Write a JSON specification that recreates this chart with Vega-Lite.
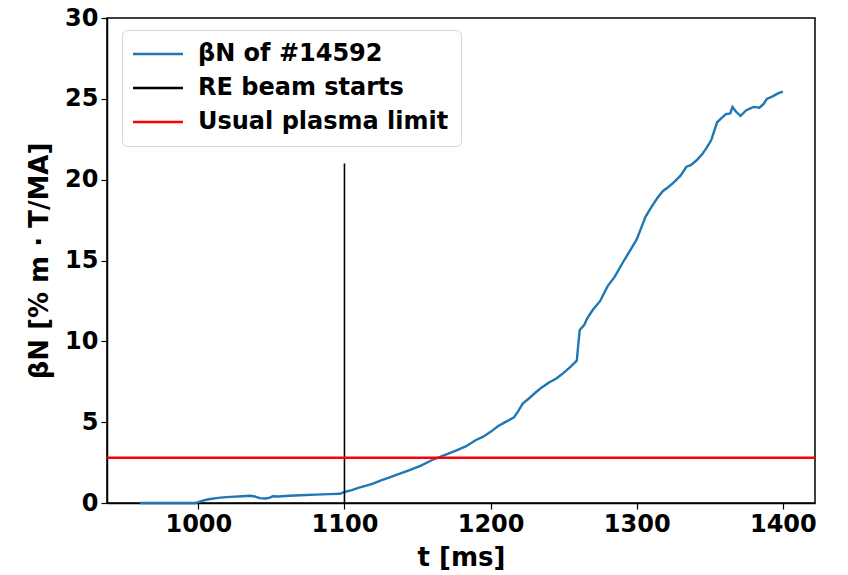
{
  "$schema": "https://vega.github.io/schema/vega-lite/v6.json",
  "width": 708,
  "height": 485,
  "autosize": {"type": "none"},
  "padding": {"left": 107, "top": 18, "right": 33, "bottom": 72},
  "background": "white",
  "datasets": {
    "beta": [
      {"t": 960, "v": 0.0}, {"t": 970, "v": 0.0}, {"t": 980, "v": 0.0}, {"t": 990, "v": 0.0}, {"t": 998, "v": 0.0},
      {"t": 1000, "v": 0.05}, {"t": 1003, "v": 0.15}, {"t": 1008, "v": 0.25}, {"t": 1015, "v": 0.33}, {"t": 1022, "v": 0.38},
      {"t": 1030, "v": 0.42}, {"t": 1035, "v": 0.45}, {"t": 1038, "v": 0.42}, {"t": 1042, "v": 0.3}, {"t": 1046, "v": 0.28},
      {"t": 1049, "v": 0.33}, {"t": 1051, "v": 0.42}, {"t": 1055, "v": 0.4}, {"t": 1062, "v": 0.45}, {"t": 1070, "v": 0.48},
      {"t": 1080, "v": 0.52}, {"t": 1090, "v": 0.55}, {"t": 1097, "v": 0.57}, {"t": 1100, "v": 0.68}, {"t": 1105, "v": 0.8},
      {"t": 1110, "v": 0.95}, {"t": 1115, "v": 1.08}, {"t": 1120, "v": 1.22}, {"t": 1125, "v": 1.4}, {"t": 1130, "v": 1.55},
      {"t": 1137, "v": 1.79}, {"t": 1145, "v": 2.05}, {"t": 1152, "v": 2.3}, {"t": 1160, "v": 2.66}, {"t": 1168, "v": 2.95},
      {"t": 1175, "v": 3.2}, {"t": 1183, "v": 3.5}, {"t": 1190, "v": 3.9}, {"t": 1195, "v": 4.1}, {"t": 1200, "v": 4.4},
      {"t": 1205, "v": 4.75}, {"t": 1210, "v": 5.0}, {"t": 1216, "v": 5.3}, {"t": 1219, "v": 5.7}, {"t": 1222, "v": 6.15},
      {"t": 1226, "v": 6.45}, {"t": 1231, "v": 6.85}, {"t": 1235, "v": 7.15}, {"t": 1240, "v": 7.45}, {"t": 1245, "v": 7.7},
      {"t": 1250, "v": 8.05}, {"t": 1255, "v": 8.45}, {"t": 1259, "v": 8.8}, {"t": 1260, "v": 9.8}, {"t": 1261, "v": 10.7},
      {"t": 1264, "v": 11.0}, {"t": 1266, "v": 11.4}, {"t": 1270, "v": 11.95}, {"t": 1275, "v": 12.5}, {"t": 1280, "v": 13.4},
      {"t": 1285, "v": 14.0}, {"t": 1290, "v": 14.8}, {"t": 1295, "v": 15.55}, {"t": 1300, "v": 16.3}, {"t": 1303, "v": 17.0},
      {"t": 1306, "v": 17.7}, {"t": 1310, "v": 18.3}, {"t": 1314, "v": 18.85}, {"t": 1318, "v": 19.3}, {"t": 1321, "v": 19.5},
      {"t": 1325, "v": 19.8}, {"t": 1330, "v": 20.25}, {"t": 1334, "v": 20.8}, {"t": 1337, "v": 20.9}, {"t": 1341, "v": 21.2},
      {"t": 1345, "v": 21.6}, {"t": 1348, "v": 22.0}, {"t": 1351, "v": 22.45}, {"t": 1353, "v": 23.0}, {"t": 1355, "v": 23.55},
      {"t": 1358, "v": 23.8}, {"t": 1361, "v": 24.05}, {"t": 1364, "v": 24.1}, {"t": 1365.5, "v": 24.5}, {"t": 1368, "v": 24.2},
      {"t": 1371, "v": 23.95}, {"t": 1375, "v": 24.3}, {"t": 1380, "v": 24.5}, {"t": 1384, "v": 24.45}, {"t": 1387, "v": 24.7},
      {"t": 1389, "v": 25.0}, {"t": 1393, "v": 25.15}, {"t": 1397, "v": 25.35}, {"t": 1400, "v": 25.45}
    ],
    "beam": [{"t": 1100, "y0": 0, "y1": 21}],
    "limit": [{"lim": 2.8}]
  },
  "config": {
    "font": "DejaVu Sans",
    "view": {"stroke": "black", "strokeWidth": 1.5},
    "axis": {
      "grid": false,
      "domainColor": "black",
      "domainWidth": 1.5,
      "tickColor": "black",
      "tickWidth": 1.2,
      "tickSize": 6,
      "labelFont": "DejaVu Sans",
      "labelFontWeight": "bold",
      "labelFontSize": 24,
      "labelColor": "black",
      "titleFont": "DejaVu Sans",
      "titleFontWeight": "bold",
      "titleFontSize": 26,
      "titleColor": "black"
    }
  },
  "layer": [
    {
      "data": {"name": "beta"},
      "mark": {"type": "line", "strokeWidth": 2.4},
      "encoding": {
        "x": {
          "field": "t", "type": "quantitative",
          "scale": {"domain": [937.5, 1422], "nice": false, "zero": false},
          "axis": {"values": [1000, 1100, 1200, 1300, 1400], "format": "d", "title": "t [ms]", "labelPadding": 3, "titlePadding": 8}
        },
        "y": {
          "field": "v", "type": "quantitative",
          "scale": {"domain": [0, 30], "nice": false},
          "axis": {"values": [0, 5, 10, 15, 20, 25, 30], "title": "βN [% m · T/MA]", "labelPadding": 3, "titlePadding": 12}
        },
        "color": {
          "datum": "βN of #14592",
          "type": "nominal",
          "scale": {"domain": ["βN of #14592", "RE beam starts", "Usual plasma limit"], "range": ["#1f77b4", "#000000", "#ff0000"]},
          "legend": {
            "title": null,
            "orient": "none",
            "legendX": 15,
            "legendY": 12,
            "symbolType": "M-1.3,0H3.7",
            "symbolSize": 400,
            "symbolStrokeWidth": 2.4,
            "symbolFillColor": "transparent",
            "labelFont": "DejaVu Sans",
            "labelFontWeight": "bold",
            "labelFontSize": 24,
            "labelColor": "black",
            "labelLimit": 500,
            "labelOffset": 40,
            "rowPadding": 10,
            "padding": 12,
            "strokeColor": "#d6d6d6",
            "fillColor": "white",
            "cornerRadius": 5
          }
        }
      }
    },
    {
      "data": {"name": "beam"},
      "mark": {"type": "rule", "strokeWidth": 1.6},
      "encoding": {
        "x": {"field": "t", "type": "quantitative"},
        "y": {"field": "y0", "type": "quantitative"},
        "y2": {"field": "y1"},
        "color": {"datum": "RE beam starts", "type": "nominal"}
      }
    },
    {
      "data": {"name": "limit"},
      "mark": {"type": "rule", "strokeWidth": 2.5},
      "encoding": {
        "y": {"field": "lim", "type": "quantitative"},
        "color": {"datum": "Usual plasma limit", "type": "nominal"}
      }
    }
  ]
}
